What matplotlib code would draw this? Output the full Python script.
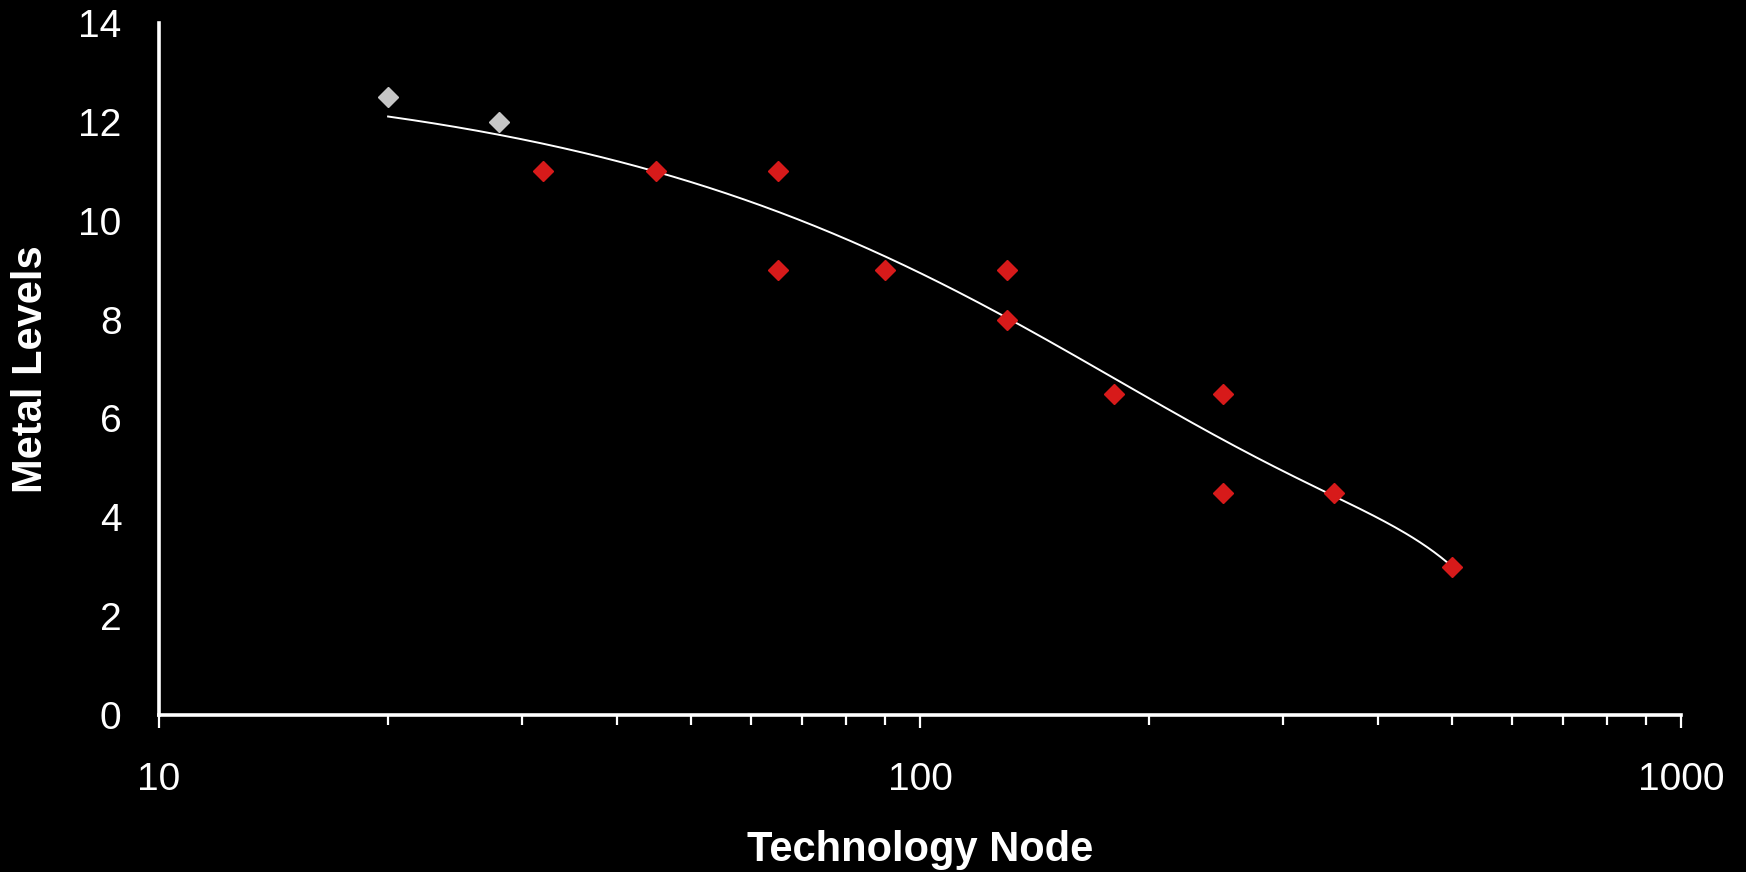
import numpy as np
import matplotlib
matplotlib.use("Agg")
import matplotlib.pyplot as plt
from matplotlib.ticker import LogLocator, NullFormatter, FixedLocator

plt.rcParams['font.family'] = ['Liberation Sans', 'DejaVu Sans']

# Data
gray_nodes = [20, 28]
gray_levels = [12.5, 12.0]
red_nodes = [32, 45, 65, 65, 90, 130, 130, 180, 250, 250, 350, 500]
red_levels = [11, 11, 11, 9, 9, 9, 8, 6.5, 6.5, 4.5, 4.5, 3]
x_ticks = [10, 100, 1000]
x_tick_labels = ["10", "100", "1000"]
y_ticks = [0, 2, 4, 6, 8, 10, 12, 14]

fig = plt.figure(figsize=(17.46, 8.72), dpi=100, facecolor='black')
ax = fig.add_axes([159/1746, 1-715/872, (1681-159)/1746, (715-23)/872])
ax.set_facecolor('black')

# Trendline: polynomial (order 3) least-squares fit of levels vs node, all points
all_x = np.array(gray_nodes + red_nodes, dtype=float)
all_y = np.array(gray_levels + red_levels, dtype=float)
coef = np.polyfit(all_x, all_y, 3)
xs = np.logspace(np.log10(all_x.min()), np.log10(all_x.max()), 300)
ax.plot(xs, np.polyval(coef, xs), color='white', lw=1.4, zorder=2)

ax.plot(gray_nodes, gray_levels, linestyle='none', marker='D', ms=10.5,
        color='#C6C6C6', mec='#C6C6C6', zorder=3)
ax.plot(red_nodes, red_levels, linestyle='none', marker='D', ms=10.5,
        color='#D71A1A', mec='#D71A1A', zorder=3)

ax.set_xscale('log')
ax.set_xlim(10, 1000)
ax.set_ylim(0, 14)
ax.xaxis.set_major_locator(FixedLocator(x_ticks))
ax.set_xticklabels(x_tick_labels)
ax.xaxis.set_minor_locator(LogLocator(base=10, subs=np.arange(2, 10)))
ax.xaxis.set_minor_formatter(NullFormatter())
ax.set_yticks(y_ticks)

for s in ['top', 'right']:
    ax.spines[s].set_visible(False)
for s in ['left', 'bottom']:
    ax.spines[s].set_color('white')
    ax.spines[s].set_linewidth(2.6)

ax.tick_params(axis='x', which='major', direction='out', length=9.5, width=1.6,
               color='white', labelcolor='white', labelsize=28, pad=24)
ax.tick_params(axis='x', which='minor', direction='out', length=7.2, width=1.6,
               color='white')
ax.tick_params(axis='y', which='both', length=0, labelcolor='white',
               labelsize=28, pad=27)

fig.text(920/1746, 11/872, 'Technology Node', color='white', fontsize=30,
         fontweight='bold', ha='center', va='baseline')
fig.text(31/1746, 1-369/872, 'Metal Levels', color='white', fontsize=30,
         fontweight='bold', ha='center', va='center', rotation=90)

fig.savefig('out.png', dpi=100, facecolor='black')
